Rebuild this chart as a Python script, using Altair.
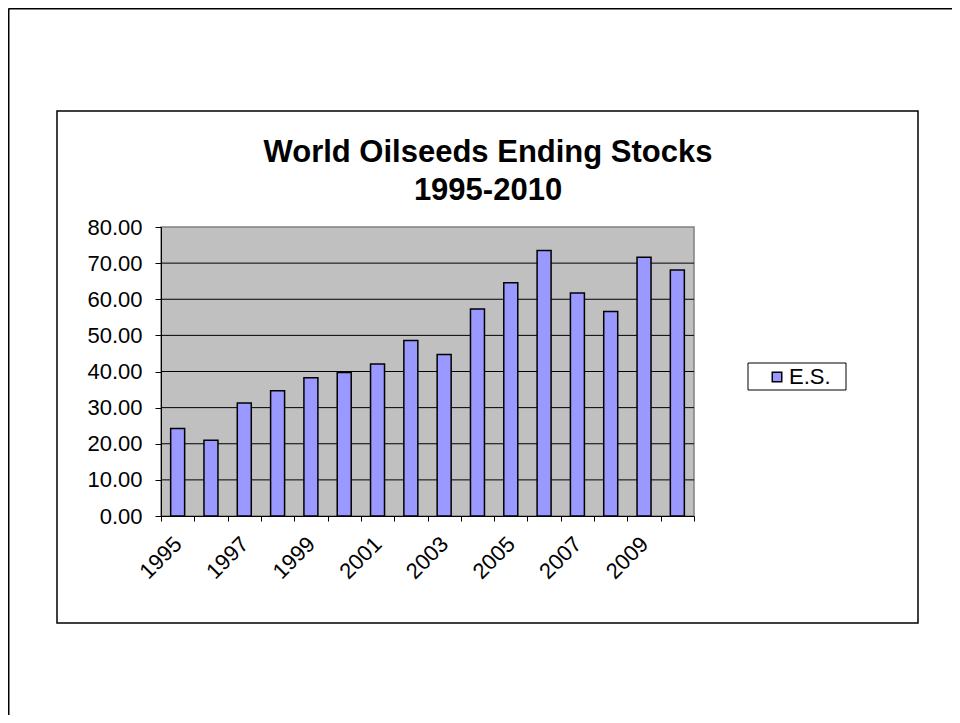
import altair as alt
import pandas as pd

# ---- data ----
years = list(range(1995, 2011))
stocks = [24.2, 21.0, 31.3, 34.7, 38.3, 39.7, 42.1, 48.6,
          44.7, 57.3, 64.6, 73.5, 61.7, 56.6, 71.6, 68.1]
series_name = "E.S."
title_lines = ["World Oilseeds Ending Stocks", "1995-2010"]
y_tick_values = [0, 10, 20, 30, 40, 50, 60, 70, 80]
grid_values = [10, 20, 30, 40, 50, 60, 70]

df = pd.DataFrame({"year": years, "value": stocks, "series": [series_name] * len(years)})
grid_df = pd.DataFrame({"g": grid_values})
one = pd.DataFrame({"k": [0]})

CW, CH = 944, 707          # canvas (page 960x723 minus 8px margins)
PL, PT = 153, 219          # plot origin inside canvas
PW, PH = 533, 289          # plot area
FONT = "Liberation Sans"
LBL = 22

yscale = alt.Scale(domain=[0, 80], nice=False)
yaxis = alt.Axis(title=None, values=y_tick_values, format=".2f", grid=False,
                 tickColor="black", tickSize=6, tickWidth=1, domainColor="black",
                 domainWidth=1, labelPadding=13, labelFontSize=LBL, labelFont=FONT,
                 labelColor="black", zindex=1)
xscale = alt.Scale(paddingInner=0, paddingOuter=0)
xaxis = alt.Axis(title=None, tickBand="extent", labelAngle=-45,
                 labelExpr="datum.value % 2 == 1 ? datum.label : ''",
                 tickColor="black", tickSize=5, tickWidth=1, domainColor="black",
                 domainWidth=1, labelPadding=12, labelOffset=-7, labelFontSize=LBL,
                 labelFont=FONT, labelColor="black", labelOverlap=False, zindex=1)

# outer slide border (only its top and left edges are on the page)
outer_top = alt.Chart(one).mark_rule(color="black", strokeWidth=2).encode(
    x=alt.value(-PL + 0.5), x2=alt.value(CW - PL), y=alt.value(-PT + 0.5))
outer_left = alt.Chart(one).mark_rule(color="black", strokeWidth=2).encode(
    x=alt.value(-PL + 0.5), y=alt.value(-PT + 0.5), y2=alt.value(CH - PT))

# chart area border
inner = alt.Chart(one).mark_rect(fillOpacity=0, stroke="black", strokeWidth=1.5).encode(
    x=alt.value(-104), x2=alt.value(757), y=alt.value(-116), y2=alt.value(396))

# legend box
legbox = alt.Chart(one).mark_rect(fillOpacity=0, stroke="black", strokeWidth=1).encode(
    x=alt.value(587), x2=alt.value(685), y=alt.value(136), y2=alt.value(163))

title1 = alt.Chart(one).mark_text(font=FONT, fontSize=31, fontWeight="bold",
                                  align="center", baseline="alphabetic", color="black").encode(
    x=alt.value(327), y=alt.value(-65), text=alt.value(title_lines[0]))
title2 = alt.Chart(one).mark_text(font=FONT, fontSize=31, fontWeight="bold",
                                  align="center", baseline="alphabetic", color="black").encode(
    x=alt.value(327), y=alt.value(-27), text=alt.value(title_lines[1]))

grid = alt.Chart(grid_df).mark_rule(color="black", strokeWidth=1).encode(
    y=alt.Y("g:Q", scale=yscale, axis=yaxis),
    x=alt.value(0), x2=alt.value(PW))

bars = alt.Chart(df).mark_bar(width=alt.RelativeBandSize(0.42), stroke="black",
                              strokeWidth=1.5).encode(
    x=alt.X("year:O", scale=xscale, axis=xaxis),
    y=alt.Y("value:Q", scale=yscale, axis=yaxis),
    color=alt.Color("series:N", scale=alt.Scale(range=["#9999ff"]),
                    legend=alt.Legend(title=None, orient="none", legendX=605, legendY=139,
                                      symbolType="square", symbolSize=90,
                                      symbolStrokeColor="black", symbolStrokeWidth=1.5,
                                      labelFont=FONT, labelFontSize=LBL, labelColor="black",
                                      labelOffset=1, padding=0)),
)

chart = alt.layer(outer_top, outer_left, inner, legbox, title1, title2, grid, bars).properties(
    width=PW, height=PH,
    padding={"left": PL, "top": PT, "right": CW - PL - PW, "bottom": CH - PT - PH},
    autosize=alt.AutoSizeParams(type="none"),
    background="white",
).configure_view(fill="#c0c0c0", stroke="#808080", strokeWidth=1.5)

chart.save("out.html", embed_options={"renderer": "svg", "actions": False})
